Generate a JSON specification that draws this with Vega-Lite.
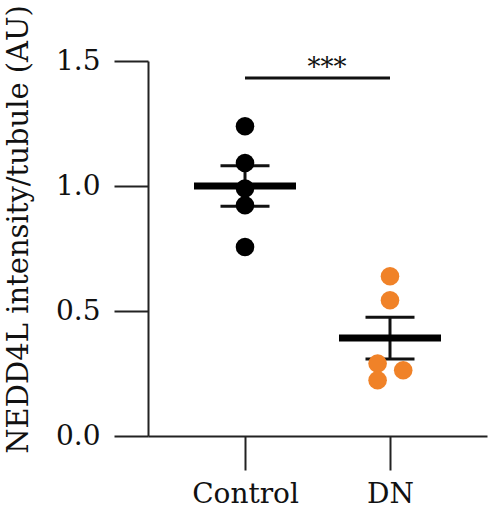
{
  "$schema": "https://vega.github.io/schema/vega-lite/v6.json",
  "autosize": {"type": "none"},
  "width": 339,
  "height": 375,
  "padding": {"left": 148, "top": 61, "right": 4, "bottom": 82},
  "background": "white",
  "config": {
    "view": {"stroke": null},
    "font": "DejaVu Serif"
  },
  "datasets": {
    "pts": [
      {"group": "Control", "value": 1.239, "jitter": 0},
      {"group": "Control", "value": 1.092, "jitter": 0},
      {"group": "Control", "value": 0.99, "jitter": 0},
      {"group": "Control", "value": 0.923, "jitter": 0},
      {"group": "Control", "value": 0.756, "jitter": 0},
      {"group": "DN", "value": 0.639, "jitter": 0},
      {"group": "DN", "value": 0.543, "jitter": 0},
      {"group": "DN", "value": 0.29, "jitter": -0.62},
      {"group": "DN", "value": 0.223, "jitter": -0.62},
      {"group": "DN", "value": 0.263, "jitter": 0.66}
    ],
    "sig": [
      {"g1": "Control", "g2": "DN", "y": 1.432, "label": "***"}
    ]
  },
  "encoding": {
    "x": {
      "field": "group", "type": "nominal",
      "scale": {"type": "point", "domain": ["Control", "DN"], "padding": 0.669},
      "axis": {
        "title": null, "labelAngle": 0, "labelFont": "DejaVu Serif", "labelFontSize": 28,
        "labelColor": "#111", "tickSize": 34, "tickWidth": 2, "tickColor": "#222",
        "domainColor": "#222", "domainWidth": 2, "labelPadding": 10, "grid": false
      }
    },
    "y": {
      "field": "value", "type": "quantitative",
      "scale": {"domain": [0, 1.5], "nice": false, "zero": true},
      "axis": {
        "title": "NEDD4L intensity/tubule (AU)", "values": [0, 0.5, 1, 1.5], "format": ".1f",
        "grid": false, "tickSize": 34, "tickWidth": 2, "tickColor": "#222",
        "domainColor": "#222", "domainWidth": 2, "labelPadding": 14,
        "labelFont": "DejaVu Serif", "labelFontSize": 28, "labelColor": "#111",
        "titleFont": "DejaVu Serif", "titleFontSize": 29, "titleFontWeight": "normal",
        "titleColor": "#111", "titleX": -130, "titleY": 168, "titleAngle": -90,
        "titleAlign": "center", "titleBaseline": "middle"
      }
    }
  },
  "layer": [
    {
      "data": {"name": "pts"},
      "mark": {"type": "errorbar", "extent": "stderr", "color": "#111", "thickness": 3, "opacity": 1,
               "rule": {"opacity": 1, "color": "#111"},
               "ticks": {"size": 49, "thickness": 3, "color": "#111", "opacity": 1}}
    },
    {
      "data": {"name": "pts"},
      "mark": {"type": "circle", "size": 346, "opacity": 1},
      "encoding": {
        "xOffset": {"field": "jitter", "type": "quantitative", "scale": {"domain": [-1, 1], "range": [-20, 20]}},
        "color": {"field": "group", "type": "nominal",
                  "scale": {"domain": ["Control", "DN"], "range": ["#000000", "#F08228"]},
                  "legend": null}
      }
    },
    {
      "data": {"name": "pts"},
      "mark": {"type": "tick", "size": 102, "thickness": 7, "color": "#000", "orient": "horizontal", "opacity": 1},
      "encoding": {
        "y": {"aggregate": "mean", "field": "value", "type": "quantitative"}
      }
    },
    {
      "data": {"name": "sig"},
      "mark": {"type": "rule", "strokeWidth": 3, "color": "#111"},
      "encoding": {
        "x": {"field": "g1", "type": "nominal"},
        "x2": {"field": "g2"},
        "y": {"field": "y", "type": "quantitative"}
      }
    },
    {
      "data": {"name": "sig"},
      "mark": {"type": "text", "fontSize": 26, "dx": 82, "dy": -2, "baseline": "alphabetic", "align": "center", "color": "#111", "font": "DejaVu Serif"},
      "encoding": {
        "x": {"field": "g1", "type": "nominal"},
        "y": {"field": "y", "type": "quantitative"},
        "text": {"field": "label"}
      }
    }
  ]
}
